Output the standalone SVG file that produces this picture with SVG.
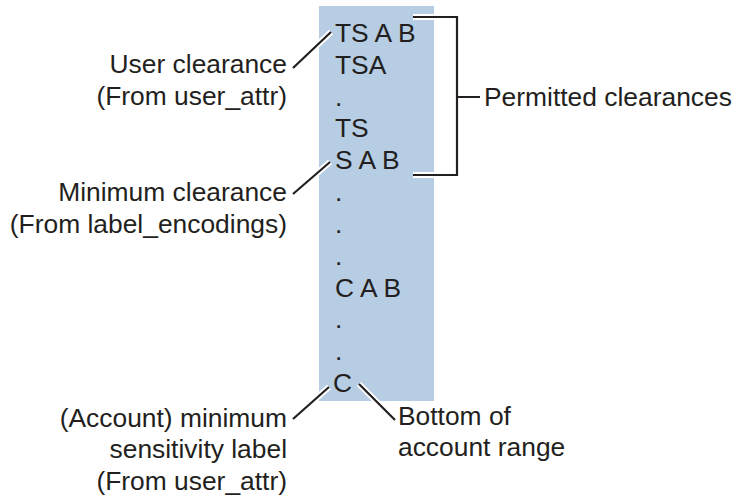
<svg xmlns="http://www.w3.org/2000/svg" width="738" height="498" viewBox="0 0 738 498">
<style>
text{font-family:"Liberation Sans",Arial,sans-serif;font-size:26.4px;fill:#231f20}
.r{text-anchor:end}
.halo{fill:none;stroke:#fff;stroke-width:6;stroke-linecap:butt}
.ln{fill:none;stroke:#231f20;stroke-width:2.2;stroke-linecap:butt}
</style>
<rect id="range" x="319" y="6" width="115" height="395" fill="#b6cde3"/>
<g id="levels">
<text x="335" y="42">TS A B</text>
<text x="335" y="74">TSA</text>
<text x="335" y="106">.</text>
<text x="335" y="137">TS</text>
<text x="335" y="169">S A B</text>
<text x="335" y="201">.</text>
<text x="335" y="233">.</text>
<text x="335" y="265">.</text>
<text x="335" y="297">C A B</text>
<text x="335" y="328">.</text>
<text x="335" y="360">.</text>
<text x="333" y="392">C</text>
</g>
<g id="connectors">
<path class="halo" d="M293 68L331 32M293 194L330 162M293 419L329 387M359 384L395 420M413 17H457V175H413M457 97H480"/>
<path class="ln" d="M293 68L331 32M293 194L330 162M293 419L329 387M359 384L395 420M413 17H457V175H413M457 97H480"/>
</g>
<g id="user-clearance">
<text class="r" x="287" y="73">User clearance</text>
<text class="r" x="287" y="105">(From user_attr)</text>
</g>
<g id="minimum-clearance">
<text class="r" x="287" y="201">Minimum clearance</text>
<text class="r" x="287" y="233">(From label_encodings)</text>
</g>
<g id="account-minimum">
<text class="r" x="287" y="427">(Account) minimum</text>
<text class="r" x="287" y="458">sensitivity label</text>
<text class="r" x="287" y="490">(From user_attr)</text>
</g>
<g id="permitted">
<text x="484" y="106">Permitted clearances</text>
</g>
<g id="bottom">
<text x="398" y="425">Bottom of</text>
<text x="398" y="456">account range</text>
</g>
</svg>
